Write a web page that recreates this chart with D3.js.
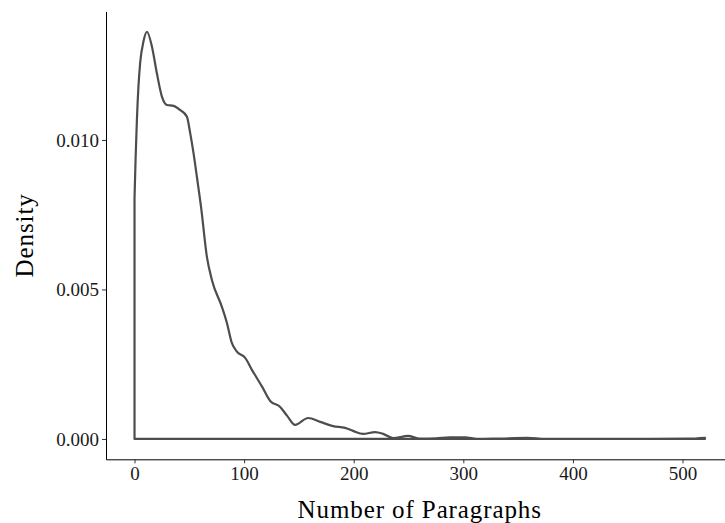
<!DOCTYPE html>
<html>
<head>
<meta charset="utf-8">
<script src="https://cdn.jsdelivr.net/npm/d3@7"></script>
<style>
  body { margin: 0; background: #fff; }
</style>
</head>
<body>
<svg class="entry-point"></svg>
<script>
/* data */
const paragraphs = [0, 1, 2.2, 3.6, 5.2, 8.2, 11.3, 15.9, 20.4, 25, 29.6, 35.6, 41.7, 47.8, 50.8, 53.8, 56.9, 60.8, 66, 70.6, 79.7, 84.3, 88.8, 93.4, 101, 107.1, 111.6, 116.5, 123.8, 132.9, 139.3, 146.5, 158.4, 169.4, 181.2, 192.1, 199.4, 208.6, 219.5, 226.8, 235.9, 249.6, 260.5, 275, 288, 301.6, 312.6, 330, 358.2, 375, 420, 470, 505, 520.5]
const density = [0.00806, 0.0094, 0.0107, 0.0118, 0.0126, 0.0133, 0.01362, 0.01312, 0.01223, 0.01145, 0.01117, 0.01114, 0.011, 0.01078, 0.01023, 0.00957, 0.00877, 0.00773, 0.0061, 0.00532, 0.00442, 0.00388, 0.00321, 0.00292, 0.00271, 0.00231, 0.00204, 0.00174, 0.00127, 0.00107, 0.00077, 0.00047, 0.0007, 0.00057, 0.00043, 0.00037, 0.00027, 0.00017, 0.00023, 0.00017, 0.00003, 0.0001, 0.00001, 0.00002, 0.00005, 0.00005, 0, 0.00001, 0.00004, 0.000005, 0, 0, 0.00001, 0.00004]
const xTicks = [0, 100, 200, 300, 400, 500]
const yTicks = [0, 0.005, 0.010]

const W = 725, H = 523
const pLeft = 106, pRight = 733.5, pTop = 11.4, pBottom = 459.3

const svg = d3.select('.entry-point')
  .attr('width', W)
  .attr('height', H)

// ggplot style 5% expansion
const xMin = d3.min(paragraphs), xMax = d3.max(paragraphs)
const xPad = (xMax - xMin) * 0.05
const yMax = d3.max(density)
const yPad = yMax * 0.05

const x = d3.scaleLinear().domain([xMin - xPad, xMax + xPad]).range([pLeft, pRight])
const y = d3.scaleLinear().domain([-yPad, yMax + yPad]).range([pBottom, pTop])

const pts = paragraphs.map((p, i) => [p, density[i]])

const area = d3.area()
  .x(d => x(d[0]))
  .y0(y(0))
  .y1(d => y(d[1]))
  .curve(d3.curveMonotoneX)

svg.append('path')
  .datum(pts)
  .attr('d', area)
  .attr('fill', 'none')
  .attr('stroke', '#4d4d4d')
  .attr('stroke-width', 2.2)
  .attr('stroke-linejoin', 'round')

const font = '"Liberation Serif", "DejaVu Serif", serif'

// x axis
const gx = svg.append('g')
  .attr('transform', `translate(0,${pBottom})`)
  .call(d3.axisBottom(x).tickValues(xTicks).tickSize(4).tickSizeOuter(0).tickPadding(3))
gx.select('.domain').attr('stroke', '#000').attr('stroke-width', 1)
gx.selectAll('.tick line').attr('stroke', '#333')
gx.selectAll('.tick text')
  .attr('font-family', font)
  .attr('font-size', '19px')
  .attr('fill', '#1a1a1a')

// y axis
const gy = svg.append('g')
  .attr('transform', `translate(${pLeft},0)`)
  .call(d3.axisLeft(y).tickValues(yTicks).tickFormat(d3.format('.3f')).tickSize(4).tickSizeOuter(0).tickPadding(3))
gy.select('.domain').attr('stroke', '#000').attr('stroke-width', 1)
gy.selectAll('.tick line').attr('stroke', '#333')
gy.selectAll('.tick text')
  .attr('font-family', font)
  .attr('font-size', '19px')
  .attr('fill', '#1a1a1a')

// axis titles
svg.append('text')
  .attr('x', (pLeft + pRight) / 2)
  .attr('y', 518)
  .attr('text-anchor', 'middle')
  .attr('font-family', font)
  .attr('font-size', '25px')
  .attr('letter-spacing', '0.9px')
  .attr('fill', '#000')
  .text('Number of Paragraphs')

svg.append('text')
  .attr('transform', `translate(33,${(pTop + pBottom) / 2}) rotate(-90)`)
  .attr('text-anchor', 'middle')
  .attr('font-family', font)
  .attr('font-size', '25px')
  .attr('letter-spacing', '0.9px')
  .attr('fill', '#000')
  .text('Density')
</script>
</body>
</html>
